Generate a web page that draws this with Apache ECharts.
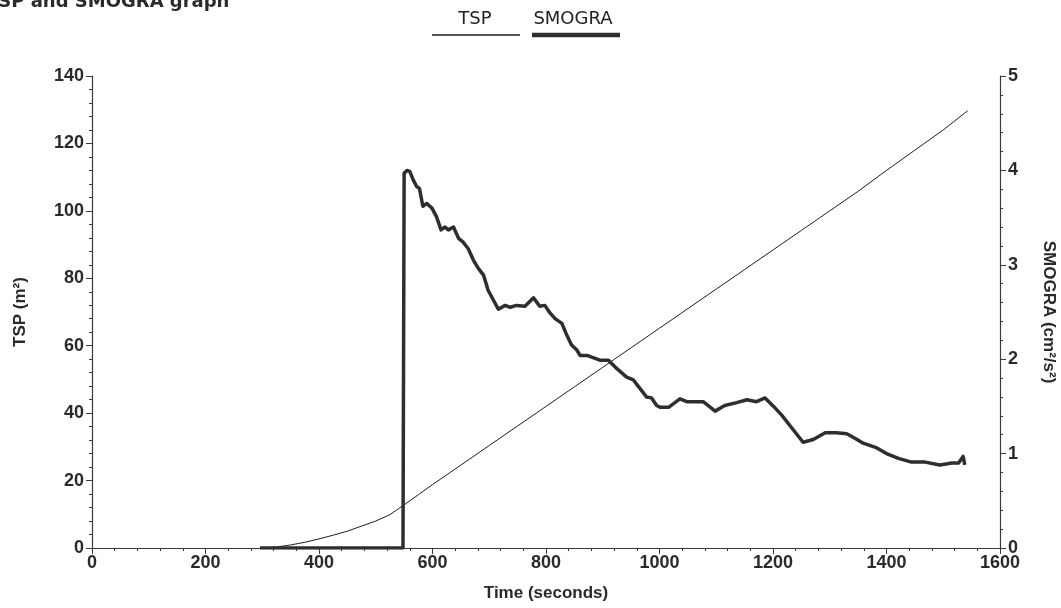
<!DOCTYPE html>
<html>
<head>
<meta charset="utf-8">
<script src="https://cdn.jsdelivr.net/npm/echarts@6/dist/echarts.min.js"></script>
<style>
html,body{margin:0;padding:0;background:#fff;}
#chart{width:1061px;height:608px;}
</style>
</head>
<body>
<div id="chart"></div>
<script>
// Time (s) / TSP (m²)
const tspTime = [300,325,350,375,400,425,450,475,500,525,550,575,600,650,700,750,800,850,900,950,1000,1050,1100,1150,1200,1250,1300,1350,1400,1450,1500,1543];
const tspValues = [0,0.3,0.9,1.7,2.7,3.8,5.0,6.5,8.0,9.9,12.8,15.8,18.8,24.6,30.4,36.2,42,47.8,53.6,59.4,65.2,71,76.8,82.6,88.4,94.2,100,105.8,112,118,124,129.7];
// Time (s) / SMOGRA (cm²/s²)
const smograTime = [296,548,550,555,560,566,572,577,583,590,599,607,615,622,628,637,646,654,663,672,681,690,698,707,716,728,737,748,763,778,789,798,807,816,828,837,845,854,860,872,895,910,925,942,954,963,972,977,986,995,1001,1016,1036,1048,1077,1098,1115,1136,1154,1171,1186,1201,1215,1236,1253,1271,1292,1312,1330,1345,1359,1383,1400,1421,1444,1468,1494,1515,1527,1535,1538];
const smograValues = [0,0,3.97,4.00,3.99,3.90,3.83,3.81,3.62,3.65,3.60,3.51,3.37,3.40,3.37,3.40,3.28,3.24,3.17,3.05,2.96,2.89,2.73,2.63,2.53,2.57,2.55,2.57,2.56,2.65,2.56,2.57,2.49,2.43,2.38,2.25,2.15,2.10,2.04,2.04,1.99,1.99,1.90,1.81,1.78,1.71,1.64,1.60,1.59,1.51,1.49,1.49,1.58,1.55,1.55,1.45,1.51,1.54,1.57,1.55,1.59,1.50,1.41,1.25,1.12,1.15,1.22,1.22,1.21,1.16,1.11,1.06,1.00,0.95,0.91,0.91,0.88,0.90,0.90,0.97,0.88];
const xTicks = [0,200,400,600,800,1000,1200,1400,1600];
const tspTicks = [0,20,40,60,80,100,120,140];
const smograTicks = [0,1,2,3,4,5];

const tspData = tspTime.map((t,i)=>[t,tspValues[i]]);
const smograData = smograTime.map((t,i)=>[t,smograValues[i]]);

const axisColor = '#3a3a3a';
const labelFont = {color:'#2a2a2a', fontFamily:'Liberation Sans, Arial, sans-serif', fontWeight:'bold', fontSize:18};
const nameFont = {color:'#2a2a2a', fontFamily:'Liberation Sans, Arial, sans-serif', fontWeight:'bold', fontSize:17};
const plain = v => String(v);

const chart = echarts.init(document.getElementById('chart'), null, {renderer:'canvas'});
chart.setOption({
  animation:false,
  backgroundColor:'#ffffff',
  grid:{left:92, right:61, top:76, bottom:60, containLabel:false, outerBoundsMode:'none'},
  xAxis:{
    type:'value', min:xTicks[0], max:xTicks[xTicks.length-1], interval:200,
    name:'Time (seconds)', nameLocation:'middle', nameGap:37,
    nameTextStyle:nameFont,
    axisLine:{show:true, onZero:false, lineStyle:{color:axisColor, width:1.2}},
    axisTick:{show:true, inside:false, length:6, lineStyle:{color:axisColor}},
    minorTick:{show:true, splitNumber:5, length:3, lineStyle:{color:axisColor}},
    axisLabel:Object.assign({margin:6, formatter:plain}, labelFont),
    splitLine:{show:false}
  },
  yAxis:[{
    type:'value', min:0, max:140, interval:20, position:'left',
    name:'TSP (m²)', nameLocation:'middle', nameGap:63, nameRotate:90,
    nameTextStyle:nameFont,
    axisLine:{show:true, lineStyle:{color:axisColor, width:1.2}},
    axisTick:{show:true, inside:false, length:6, lineStyle:{color:axisColor}},
    minorTick:{show:true, splitNumber:5, length:3, lineStyle:{color:axisColor}},
    axisLabel:Object.assign({margin:8, formatter:plain}, labelFont),
    splitLine:{show:false}
  },{
    type:'value', min:0, max:5, interval:1, position:'right',
    name:'SMOGRA (cm²/s²)', nameLocation:'middle', nameGap:40, nameRotate:-90,
    nameTextStyle:nameFont,
    axisLine:{show:true, lineStyle:{color:axisColor, width:1.2}},
    axisTick:{show:true, inside:false, length:6, lineStyle:{color:axisColor}},
    minorTick:{show:true, splitNumber:5, length:3, lineStyle:{color:axisColor}},
    axisLabel:Object.assign({margin:8, formatter:plain}, labelFont),
    splitLine:{show:false}
  }],
  series:[{
    name:'TSP', type:'line', yAxisIndex:0, data:tspData, showSymbol:false, smooth:false,
    lineStyle:{color:'#1e1e1e', width:1}
  },{
    name:'SMOGRA', type:'line', yAxisIndex:1, data:smograData, showSymbol:false, smooth:false,
    lineStyle:{color:'#2e2e2e', width:3.5, join:'round'}
  }],
  graphic:[
    {type:'text', left:-14, top:-7, style:{text:'TSP and SMOGRA graph', fill:'#2a2a2a', font:'bold 18px "DejaVu Sans", Verdana, sans-serif'}},
    {type:'text', x:475, y:19, style:{text:'TSP', fill:'#222', font:'18px "DejaVu Sans", Verdana, sans-serif', align:'center', verticalAlign:'middle'}},
    {type:'line', shape:{x1:432, y1:35, x2:520, y2:35}, style:{stroke:'#1e1e1e', lineWidth:1.3}},
    {type:'text', x:573, y:19, style:{text:'SMOGRA', fill:'#222', font:'18px "DejaVu Sans", Verdana, sans-serif', align:'center', verticalAlign:'middle'}},
    {type:'line', shape:{x1:532, y1:35, x2:620, y2:35}, style:{stroke:'#2e2e2e', lineWidth:4.5}}
  ]
});
</script>
</body>
</html>
